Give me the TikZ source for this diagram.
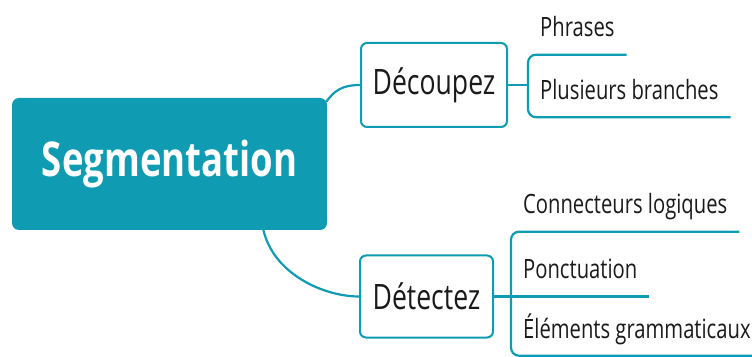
\documentclass[tikz,border=0pt]{standalone}
\usepackage{fontspec}
\setmainfont{Open Sans}[FakeStretch=0.76]
\usetikzlibrary{calc}
\definecolor{teal1}{HTML}{0F9CB2}
\definecolor{ink}{HTML}{1A1A1A}
\begin{document}
\begin{tikzpicture}[x=1pt,y=1pt,
  conn/.style={draw=teal1, line width=2.2pt},
  rootbox/.style={fill=teal1, rounded corners=7pt, text=white, inner sep=0pt,
    font=\bfseries\fontsize{48}{52}\selectfont},
  midbox/.style={draw=teal1, line width=2pt, rounded corners=6pt, fill=white,
    text=ink, inner sep=0pt, font=\fontsize{35}{40}\selectfont},
  leaf/.style={text=ink, inner xsep=12pt, inner ysep=17.5pt, text depth=0pt,
    anchor=base west, font=\fontsize{26.6}{30}\selectfont}]
\useasboundingbox (0,0) rectangle (752,356);
\node[rootbox, minimum width=315pt, minimum height=132pt] (seg) at (169.5,192) {Segmentation};
\node[midbox, minimum width=146pt, minimum height=84pt] (dec) at (434,271) {Découpez};
\node[midbox, minimum width=133pt, minimum height=82pt] (det) at (426.5,59.5) {Détectez};
% leaves of Découpez
\node[leaf] (l1) at (528,319) {Phrases};
\node[leaf] (l2) at (528,256.5) {Plusieurs branches};
% leaves of Détectez
\node[leaf] (l3) at (511,142) {Connecteurs logiques};
\node[leaf] (l4) at (511,77) {Ponctuation};
\node[leaf] (l5) at (511,18) {Éléments grammaticaux};
% connectors from the root
\draw[conn] ($(seg.north east)+(-1,-4)$) .. controls +(8,11) and +(-18,0) .. (dec.west);
\draw[conn] ($(seg.south east)+(-64,1)$) .. controls +(10,-45) and +(-35,0) .. (det.west);
% Découpez brace
\draw[conn] (dec.east) -- (dec.east -| l1.south west);
\draw[conn, rounded corners=8pt] (l1.south east) -- (l1.south west) -- (l2.south west) -- (l2.south east);
% Détectez brace
\draw[conn] (det.east) -- (det.east -| l4.south east);
\draw[conn, rounded corners=8pt] (l3.south east) -- (l3.south west) -- (l5.south west) -- (l5.south east);
\end{tikzpicture}
\end{document}
